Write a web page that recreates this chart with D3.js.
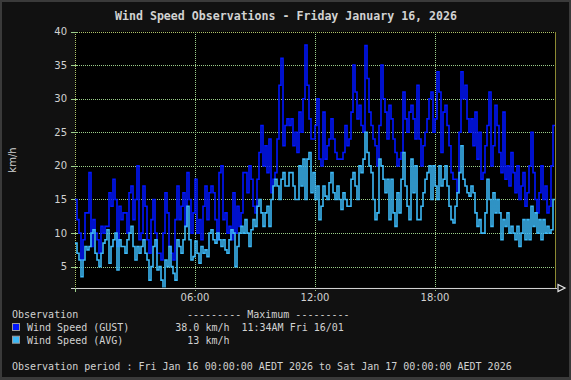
<!DOCTYPE html>
<html>
<head>
<meta charset="utf-8">
<script src="https://cdn.jsdelivr.net/npm/d3@7"></script>
<style>
  body { margin: 0; background: #3a3a3a; }
  svg { display: block; }
</style>
</head>
<body>
<div id="chart"></div>
<script>
// 6-minute samples, 00:00 to 24:00 (10 per hour)
var gust = [
    15,12,10,6,9,13,13,19,8,12, 10,9,7,11,10,11,11,16,14,18, 15,8,14,12,13,13,10,16,17,12,
    15,20,9,10,17,14,9,7,12,15, 10,7,7,6,10,16,13,8,7,6, 12,17,12,14,16,11,19,15,10,13,
    18,10,12,9,14,17,12,16,17,16, 12,9,19,20,12,13,10,11,9,16, 10,14,11,13,19,19,16,20,18,14,
    13,18,22,26,20,23,19,24,16,18, 19,24,32,36,23,26,27,26,27,23, 25,22,28,25,30,38,32,27,24,24,
    26,30,21,20,28,21,23,24,27,24, 22,21,21,21,22,26,23,24,28,35, 31,27,29,26,25,37.9,33,28,26,24,
    23,20,26,35,30,28,24,29,27,24, 22,20,21,22,31,27,25,28,29,27, 24,32,24,20,23,25,27,30,31,25,
    27,34,31,22,28,29,26,23,19,18, 18,16,25,34,30,32,27,25,27,23, 28,21,25,18,19,23,26,31,20,23,
    29,26,22,19,28,18,20,17,22,19, 16,20,15,17,19,14,16,20,25,19, 15,13,16,20,15,17,13,14,20,26
];
var avg = [
    8.5,7,6,3.5,6,8,7.5,8,10,10.5, 7,6,5,7,8.5,9,10.5,5.5,8,9, 10,4.5,9,8,8,7,9,10,11,8,
    6,8,7,8,9,7,6,3,5,8, 9,4.5,5,3,1.5,6,5,8,5,4, 3,9,8,7,9,11,14,9,6,6.5,
    8.8,7,5.5,8,7,7.5,6.5,10,10.5,9, 8.5,10,9,8,9,7.5,7,9,10.5,10, 5,8,10,11,10,12,10,8,10.5,12,
    11,14,15,13,11,13,14,11,15,17, 18,17,15,18,19,17,17,19,19,17, 15,15,20,17,21,15,21,22,16,19,
    15,17,12,14,17,15.5,15,17.5,19,16, 15,17,15,13.5,16,15,14,14,18,19, 17,15,20,19,21,25,22,20,19,15,
    12,13,21,20,18,16,18,12,18,13, 11,16,13,18,22,17,14,12,21,16, 20,12,12,14,16,18,19,20,15,20,
    17,15,20,17,18,20,17,14,12,11.5, 14,16,19,23,18,17,16,15.5,17,16, 13,11,12,10,10,13,18,15,11,16,
    13,15,13,9,12,11,13,10,11,10, 9,11,8,10,12,9,12,9,14,11, 13,10,12,9,12,10,11,10,10.5,15
];
var yTicks = [5, 10, 15, 20, 25, 30, 35, 40];
var xTicks = [6, 12, 18];
var xTickLabels = ['06:00', '12:00', '18:00'];
var seriesNames = ['Wind Speed (GUST)', 'Wind Speed (AVG)'];
var seriesMax = ['38.0 km/h', '13 km/h'];
var seriesMaxTime = ['11:34AM Fri 16/01', ''];

var width = 571, height = 380;
var margins = {left: 75, right: 16, top: 31.5, bottom: 92.5};
var colors = ['#0016ff', '#3cb8f6'];
var gridColor = '#9ccf8a';
var textColor = '#d2d2d2';
var mono = '"DejaVu Sans Mono", monospace';

var x = d3.scaleLinear().domain([0, 24]).range([margins.left, width - margins.right]);
var y = d3.scaleLinear().domain([1.9, 40]).range([height - margins.bottom, margins.top]);

var vis = d3.select('#chart').append('svg')
    .attr('width', width)
    .attr('height', height);

vis.append('rect').attr('x', 0).attr('y', 0).attr('width', width).attr('height', height).attr('fill', '#3a3a3a');
vis.append('rect').attr('x', 2).attr('y', 2).attr('width', width - 4).attr('height', height - 5).attr('fill', '#111111');

// title
vis.append('text')
    .attr('x', 286).attr('y', 19.5)
    .attr('text-anchor', 'middle')
    .attr('textLength', 342).attr('lengthAdjust', 'spacingAndGlyphs')
    .style('font-family', mono).style('font-size', '13px').style('font-weight', 'bold')
    .attr('fill', textColor)
    .text('Wind Speed Observations - Friday January 16, 2026');

// plot area
var x0 = x(0), x1 = x(24), yTop = y(40), yBot = y(1.9);
vis.append('rect').attr('x', x0).attr('y', yTop).attr('width', x1 - x0).attr('height', yBot - yTop).attr('fill', '#000');

vis.append('clipPath').attr('id', 'plotclip')
    .append('rect').attr('x', x0).attr('y', yTop).attr('width', x1 - x0).attr('height', yBot - yTop);

var grid = vis.append('g').attr('shape-rendering', 'crispEdges');

// horizontal grid
grid.selectAll('.hgrid').data(yTicks).enter().append('line')
    .attr('x1', x0).attr('x2', x1)
    .attr('y1', function(d) { return Math.round(y(d)) + 0.5; })
    .attr('y2', function(d) { return Math.round(y(d)) + 0.5; })
    .attr('stroke', function(d) { return d === 40 ? '#b0c46a' : gridColor; })
    .attr('stroke-dasharray', '1,1');

// vertical grid + ticks
grid.selectAll('.vgrid').data(xTicks).enter().append('line')
    .attr('x1', function(d) { return Math.round(x(d)) + 0.5; })
    .attr('x2', function(d) { return Math.round(x(d)) + 0.5; })
    .attr('y1', yTop).attr('y2', yBot + 4)
    .attr('stroke', gridColor)
    .attr('stroke-dasharray', '1,1');

// data
var line = d3.line()
    .curve(d3.curveStepAfter)
    .x(function(d) { return x(d[0]); })
    .y(function(d) { return y(d[1]); });

function toPoints(arr) {
    var pts = arr.map(function(v, i) { return [i / 10, v]; });
    pts.push([24, arr[arr.length - 1]]);
    return pts;
}

var plot = vis.append('g').attr('clip-path', 'url(#plotclip)');
[gust, avg].forEach(function(s, i) {
    plot.append('path')
        .datum(toPoints(s))
        .attr('d', line)
        .attr('fill', 'none')
        .attr('stroke', colors[i])
        .attr('stroke-width', 1.6)
        .attr('stroke-linejoin', 'miter');
});

// left axis
grid.append('line')
    .attr('x1', Math.round(x0) + 0.5).attr('x2', Math.round(x0) + 0.5)
    .attr('y1', yTop).attr('y2', yBot + 4)
    .attr('stroke', '#b0c46a').attr('stroke-dasharray', '1,1');
grid.selectAll('.ytick').data(yTicks).enter().append('line')
    .attr('x1', x0 - 4).attr('x2', x0 + 3)
    .attr('y1', function(d) { return Math.round(y(d)) + 0.5; })
    .attr('y2', function(d) { return Math.round(y(d)) + 0.5; })
    .attr('stroke', gridColor);

// right edge
grid.append('line')
    .attr('x1', Math.round(x1) + 0.5).attr('x2', Math.round(x1) + 0.5)
    .attr('y1', yTop).attr('y2', yBot)
    .attr('stroke', '#8c8a32');

// bottom axis with arrow
grid.append('line')
    .attr('x1', x0 - 4).attr('x2', x1 + 2)
    .attr('y1', Math.round(yBot) + 0.5).attr('y2', Math.round(yBot) + 0.5)
    .attr('stroke', '#d0d0d0');
grid.append('line')
    .attr('x1', Math.round(x0) + 0.5).attr('x2', Math.round(x0) + 0.5)
    .attr('y1', yBot).attr('y2', yBot + 4)
    .attr('stroke', gridColor);
vis.append('path')
    .attr('d', 'M' + (x1 + 3) + ',' + (yBot - 3) + 'L' + (x1 + 10) + ',' + (yBot + 0.5) + 'L' + (x1 + 3) + ',' + (yBot + 4) + 'Z')
    .attr('fill', '#111').attr('stroke', '#e8e8e8').attr('stroke-width', 1.2);

// axis labels
vis.selectAll('.ylab').data(yTicks).enter().append('text')
    .attr('x', x0 - 8).attr('y', function(d) { return y(d) + 3.5; })
    .attr('text-anchor', 'end')
    .style('font-family', '"DejaVu Sans", sans-serif').style('font-size', '10px')
    .attr('fill', textColor)
    .text(function(d) { return d; });

vis.selectAll('.xlab').data(xTicks).enter().append('text')
    .attr('x', function(d) { return x(d); }).attr('y', 301)
    .attr('text-anchor', 'middle')
    .style('font-family', '"DejaVu Sans", sans-serif').style('font-size', '10px')
    .attr('fill', textColor)
    .text(function(d, i) { return xTickLabels[i]; });

vis.append('text')
    .attr('transform', 'translate(16,160) rotate(-90)')
    .attr('text-anchor', 'middle')
    .style('font-family', '"DejaVu Sans", sans-serif').style('font-size', '10px')
    .attr('fill', textColor)
    .text('km/h');

// legend
var legend = vis.append('g')
    .style('font-family', mono).style('font-size', '10px')
    .attr('fill', textColor);

legend.append('text').attr('x', 12).attr('y', 317.5).text('Observation');
legend.append('text').attr('x', 187).attr('y', 317.5).attr('xml:space', 'preserve').text('--------- Maximum ---------');

seriesNames.forEach(function(name, i) {
    var by = 331 + i * 12.7;
    legend.append('rect')
        .attr('x', 12.5).attr('y', by - 7.5).attr('width', 7).attr('height', 7)
        .attr('fill', colors[i]).attr('stroke', '#9a9a9a').attr('stroke-width', 1);
    legend.append('text').attr('x', 27).attr('y', by).text(name);
    legend.append('text').attr('x', 229.5).attr('y', by).attr('text-anchor', 'end').text(seriesMax[i]);
    legend.append('text').attr('x', 241.5).attr('y', by).text(seriesMaxTime[i]);
});

legend.append('text').attr('x', 12).attr('y', 369.5)
    .text('Observation period : Fri Jan 16 00:00:00 AEDT 2026 to Sat Jan 17 00:00:00 AEDT 2026');
</script>
</body>
</html>
